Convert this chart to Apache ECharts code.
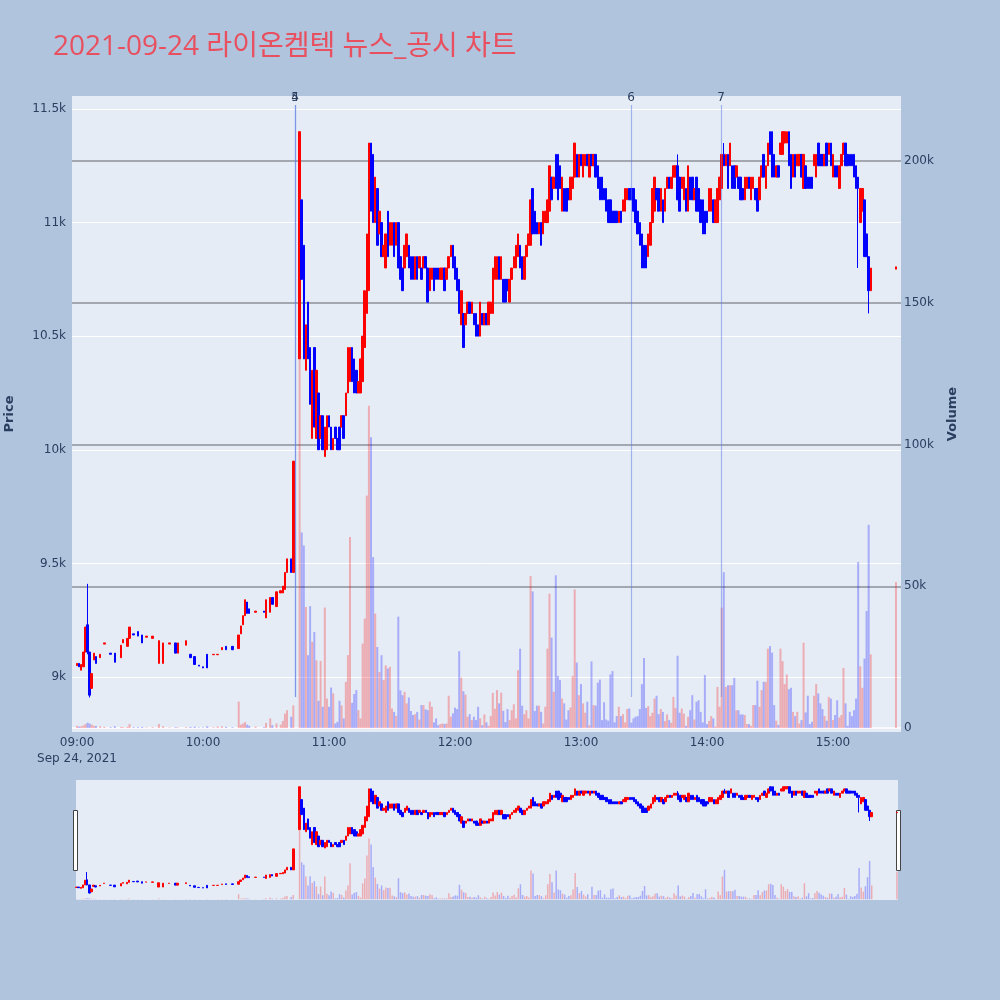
<!DOCTYPE html>
<html>
<head>
<meta charset="utf-8">
<script src="https://cdn.jsdelivr.net/npm/echarts@6/dist/echarts.min.js"></script>
<style>
    html, body { margin: 0; padding: 0; background: #b0c4de; }
    #chart { width: 1000px; height: 1000px; }
</style>
</head>
<body>
<div id="chart"></div>
<script>
// 1분봉: [09:00 기준 분, 시가, 종가, 거래량]
const morningBars = [
    [0, 9050, 9060, 800], [1, 9060, 9045, 500], [2, 9030, 9055, 600], [3, 9045, 9110, 900], [4, 9110, 9220, 1400],
    [5, 9230, 9110, 1900], [6, 9110, 8920, 1600], [7, 8950, 9015, 1200], [8, 9075, 9105, 800], [9, 9090, 9060, 700],
    [11, 9085, 9100, 600], [13, 9145, 9150, 400], [16, 9105, 9100, 300], [18, 9105, 9065, 600], [21, 9085, 9140, 400],
    [22, 9150, 9165, 300], [24, 9135, 9170, 400], [25, 9170, 9220, 1400], [27, 9190, 9185, 300], [29, 9200, 9180, 300],
    [31, 9185, 9150, 400], [33, 9175, 9180, 200], [36, 9170, 9180, 300], [39, 9060, 9160, 1400], [41, 9060, 9150, 600],
    [44, 9145, 9150, 200], [47, 9150, 9105, 300], [48, 9105, 9150, 200], [52, 9140, 9160, 300], [54, 9100, 9085, 400],
    [56, 9090, 9055, 500], [58, 9052, 9048, 200], [60, 9045, 9040, 200], [62, 9100, 9040, 600], [65, 9098, 9100, 300],
    [67, 9098, 9100, 500], [69, 9120, 9130, 600], [71, 9135, 9120, 400], [74, 9135, 9120, 300], [77, 9125, 9185, 9300],
    [78, 9190, 9225, 1200], [79, 9230, 9270, 1600], [80, 9270, 9340, 2100], [81, 9330, 9280, 1200], [82, 9300, 9280, 800],
    [85, 9285, 9290, 500], [89, 9290, 9285, 300], [90, 9260, 9340, 1800], [92, 9285, 9350, 3400], [93, 9350, 9320, 1000],
    [95, 9310, 9375, 1600], [97, 9370, 9380, 1200], [98, 9370, 9400, 2500], [99, 9385, 9460, 5100], [100, 9460, 9520, 6300],
    [102, 9520, 9460, 4000], [103, 9460, 9950, 8000]
]
// VI 이후 급등 구간
const spikeBars = [
    [106, 10400, 11400, 130000], [107, 11100, 10750, 69000], [108, 10900, 10400, 64400], [109, 10350, 10550, 42700],
    [110, 10650, 10400, 25700], [111, 10450, 10200, 43000], [112, 10050, 10350, 30400], [113, 10450, 10100, 33900],
    [114, 10050, 10350, 23900], [115, 10250, 10000, 9600], [116, 10050, 10150, 23700], [117, 10150, 10000, 7500],
    [118, 9970, 10100, 42500], [119, 10000, 10150, 10400], [120, 10150, 10100, 7500], [121, 10100, 10000, 14300],
    [122, 10000, 10050, 12200], [123, 10100, 10050, 1600], [124, 10050, 10000, 2200], [125, 10100, 10000, 9600],
    [126, 10100, 10150, 8000], [127, 10150, 10050, 3400], [128, 10150, 10250, 16300], [129, 10250, 10450, 25700],
    [130, 10300, 10450, 67400], [131, 10450, 10300, 8900], [132, 10400, 10250, 12000], [133, 10350, 10250, 13400],
    [134, 10250, 10300, 6300], [135, 10250, 10400, 3400], [136, 10300, 10500, 29800], [137, 10450, 10700, 38600],
    [138, 10600, 10950, 82000], [139, 10700, 11350, 113700], [140, 11350, 11050, 102600], [141, 11300, 11000, 60300],
    [142, 11000, 11200, 40400], [143, 11150, 10900, 28600], [144, 10950, 11050, 19800], [145, 11000, 10850, 25700],
    [146, 10850, 10900, 16900], [147, 10800, 10950, 22100], [148, 11050, 10850, 21000], [149, 10900, 11000, 21600],
    [150, 10900, 11000, 6900], [151, 11000, 10850, 5700], [152, 10900, 11000, 4300], [153, 11000, 10800, 39300],
    [154, 10850, 10750, 13300], [155, 10800, 10700, 11600], [156, 10800, 10900, 12800]
]
const middayBars = [
    [157, 10850, 10950, 8700], [158, 10900, 10800, 10800], [159, 10850, 10750, 6000], [160, 10850, 10750, 4600],
    [161, 10750, 10850, 4900], [162, 10850, 10750, 5700], [163, 10800, 10850, 3000], [164, 10800, 10750, 8100],
    [165, 10800, 10850, 8100], [166, 10850, 10800, 6600], [167, 10800, 10650, 6300], [168, 10700, 10800, 9300],
    [169, 10750, 10800, 7500], [170, 10800, 10700, 2000], [171, 10800, 10750, 3400], [172, 10800, 10750, 1000],
    [173, 10750, 10800, 1400], [174, 10750, 10800, 1600], [175, 10800, 10700, 1400], [176, 10750, 10800, 1600],
    [177, 10800, 10850, 11400], [178, 10850, 10900, 4000], [179, 10900, 10800, 5200], [180, 10850, 10750, 7200],
    [181, 10800, 10700, 6700], [182, 10750, 10600, 27100], [183, 10550, 10700, 17800], [184, 10600, 10450, 13000],
    [185, 10550, 10600, 11800], [186, 10600, 10650, 4000], [187, 10650, 10600, 4900], [188, 10600, 10650, 2800],
    [189, 10600, 10550, 4000], [190, 10600, 10500, 2800], [191, 10550, 10500, 7500], [192, 10500, 10650, 3400],
    [193, 10600, 10550, 1000], [194, 10550, 10600, 4800], [195, 10600, 10550, 2000], [196, 10550, 10650, 800],
    [197, 10600, 10650, 4200], [198, 10600, 10800, 12400], [199, 10750, 10850, 6800], [200, 10750, 10850, 13400],
    [201, 10850, 10750, 8700], [202, 10750, 10850, 12500], [203, 10750, 10650, 6100], [204, 10750, 10650, 2100],
    [205, 10750, 10700, 6700], [206, 10650, 10750, 2800], [207, 10750, 10800, 6300], [208, 10800, 10850, 8400],
    [209, 10800, 10900, 3400], [210, 10850, 10950, 20400], [211, 10900, 10800, 28000], [212, 10850, 10750, 7900],
    [213, 10750, 10850, 4900], [214, 10850, 10900, 6300], [215, 10900, 10950, 3400], [216, 10900, 11100, 53600],
    [217, 11150, 10950, 48200], [218, 11050, 10950, 6000], [219, 11000, 10950, 7900], [220, 10950, 11000, 7900],
    [221, 11000, 10900, 5700], [222, 10950, 11050, 1600], [223, 11000, 11050, 7500], [224, 11000, 11100, 28000],
    [225, 11050, 11250, 47400], [226, 11200, 11100, 31900], [227, 11150, 11200, 12800], [228, 11300, 11150, 53900],
    [229, 11300, 11100, 18400], [230, 11250, 11150, 16900], [231, 11050, 11200, 10400]
]
const afternoonBars = [
    [232, 11150, 11050, 8700], [233, 11150, 11050, 3000], [234, 11150, 11100, 6300], [235, 11100, 11200, 7300],
    [236, 11150, 11200, 18400], [237, 11200, 11350, 48900], [238, 11300, 11200, 23100], [239, 11200, 11300, 11600],
    [240, 11300, 11250, 15500], [241, 11200, 11300, 8700], [242, 11250, 11300, 5400], [243, 11300, 11250, 9300],
    [244, 11200, 11300, 1000], [245, 11300, 11250, 23500], [246, 11250, 11300, 8100], [247, 11300, 11200, 7900],
    [248, 11250, 11150, 16000], [249, 11200, 11100, 17100], [250, 11200, 11100, 2800], [251, 11150, 11100, 9100],
    [252, 11150, 11050, 3000], [253, 11100, 11000, 2600], [254, 11100, 11000, 18900], [255, 11050, 11000, 20100],
    [256, 11050, 11000, 2000], [257, 11050, 11000, 4200], [258, 11000, 11050, 7500], [259, 11050, 11000, 4200],
    [260, 11050, 11100, 4900], [261, 11050, 11150, 2000], [262, 11100, 11150, 6700], [263, 11150, 11100, 6900],
    [264, 11150, 11100, 1900], [265, 11150, 11050, 3400], [266, 11100, 11000, 4000], [267, 11050, 10950, 4200],
    [268, 11000, 10900, 6700], [269, 10950, 10800, 15500], [270, 10900, 10800, 24700], [271, 10900, 10800, 7100],
    [272, 10850, 10950, 7700], [273, 10900, 11000, 4200], [274, 11000, 11150, 5400], [275, 11050, 11200, 10400],
    [276, 11150, 11100, 11400], [277, 11150, 11050, 4900], [278, 11050, 11150, 6700], [279, 11100, 11000, 5700],
    [280, 11050, 11150, 2500], [281, 11150, 11200, 4800], [282, 11200, 11150, 2800], [283, 11150, 11200, 1900],
    [284, 11200, 11250, 11000], [285, 11200, 11250, 7100], [286, 11250, 11100, 25500], [287, 11200, 11050, 5400],
    [288, 11150, 11200, 6900], [289, 11100, 11200, 5100], [290, 11150, 11050, 800], [291, 11050, 11250, 4000],
    [292, 11200, 11100, 6300], [293, 11200, 11100, 11600], [294, 11100, 11150, 3000], [295, 11200, 11050, 9300],
    [296, 11150, 11050, 9800], [297, 11100, 11000, 5700], [298, 11100, 10950, 2000], [299, 11050, 10950, 18700],
    [300, 11050, 11000, 1400], [301, 11050, 11150, 2500], [302, 11050, 11150, 4200], [303, 11100, 11000, 3400]
]
const closingBars = [
    [304, 11000, 11100, 500], [305, 11000, 11150, 14500], [306, 11100, 11200, 7500], [307, 11150, 11300, 42500],
    [308, 11300, 11250, 55000], [309, 11250, 11300, 14500], [310, 11300, 11150, 15100], [311, 11250, 11350, 15100],
    [312, 11250, 11150, 15100], [313, 11250, 11150, 17700], [314, 11200, 11250, 6300], [315, 11200, 11150, 6300],
    [316, 11200, 11100, 4800], [317, 11150, 11100, 4800], [318, 11100, 11200, 4600], [319, 11150, 11200, 1400],
    [320, 11200, 11150, 1400], [321, 11100, 11200, 800], [322, 11150, 11200, 8100], [323, 11150, 11100, 8100],
    [324, 11150, 11050, 16700], [325, 11100, 11200, 7500], [326, 11200, 11250, 13400], [327, 11300, 11200, 16300],
    [328, 11150, 11250, 16300], [329, 11250, 11350, 28000], [330, 11400, 11300, 28900], [331, 11400, 11200, 26600],
    [332, 11300, 11200, 8100], [333, 11200, 11250, 2600], [334, 11250, 11200, 1100], [335, 11300, 11350, 28000],
    [336, 11300, 11400, 23600], [337, 11350, 11400, 15500], [338, 11350, 11400, 18900], [339, 11400, 11250, 13700],
    [340, 11300, 11150, 14200], [341, 11200, 11300, 5700], [342, 11300, 11200, 4200], [343, 11250, 11300, 5700],
    [344, 11250, 11300, 1600], [345, 11300, 11200, 2800], [346, 11150, 11300, 30100], [347, 11250, 11150, 5500],
    [348, 11200, 11150, 11400], [349, 11200, 11150, 1400], [350, 11200, 11150, 2200], [351, 11250, 11300, 11400],
    [352, 11200, 11300, 15500], [353, 11350, 11250, 12200], [354, 11300, 11250, 8700], [355, 11300, 11250, 6700],
    [356, 11250, 11300, 4200], [357, 11350, 11250, 2600], [358, 11300, 11350, 11000], [359, 11350, 11250, 10400],
    [360, 11200, 11300, 2800], [361, 11250, 11200, 4600], [362, 11250, 11200, 9800], [363, 11150, 11250, 3700],
    [364, 11250, 11300, 4600], [365, 11300, 11350, 21200], [366, 11350, 11250, 8700], [367, 11300, 11250, 800],
    [368, 11300, 11250, 5700], [369, 11300, 11250, 4200], [370, 11300, 11200, 6300], [371, 11250, 11150, 10400],
    [372, 11200, 11150, 58600], [373, 11000, 11150, 21800], [374, 11050, 11150, 14200], [375, 11100, 10850, 24500],
    [376, 10950, 10850, 41300], [377, 10850, 10700, 71700], [378, 10700, 10800, 26000],
    [390, 10795, 10805, 51500]   // 15:30 동시호가
]
// 꼬리: [분, 저가, 고가]
const wicks = [[5, 9100, 9410], [6, 8910, 9110], [286, 11100, 11300], [308, 11250, 11350], [372, 10800, 11200], [377, 10600, 10850]]

// 뉴스/공시 시점 (분)
const newsLabels = ['4', '5', '6', '7']
const newsMinutes = [103.8, 103.8, 263.8, 306.7]

const timeTicks = [0, 60, 120, 180, 240, 300, 360]
const priceTicks = [9000, 9500, 10000, 10500, 11000, 11500]
const volumeTicks = [0, 50000, 100000, 150000, 200000]

const FONT = '"Open Sans", "Noto Sans CJK KR", sans-serif'
const TICK_FONT = '"DejaVu Sans", sans-serif'
const TXT = '#2a3f5f'
const UP = '#ff0000'
const DOWN = '#0000ff'

function hhmm(m) {
    const h = 9 + Math.floor(m / 60)
    const mm = m % 60
    return String(h).padStart(2, '0') + ':' + String(mm).padStart(2, '0')
}

const bars = [].concat(morningBars, spikeBars, middayBars, afternoonBars, closingBars)
const wickMap = {}
wicks.forEach(w => { wickMap[w[0]] = w })

const candleData = bars.map(b => {
    const w = wickMap[b[0]]
    let lo = Math.min(b[1], b[2]), hi = Math.max(b[1], b[2])
    if (w) { lo = Math.min(lo, w[1]); hi = Math.max(hi, w[2]) }
    return [b[0], b[1], b[2], lo, hi]
})
const volumeData = bars.map(b => ({
    value: [b[0], b[3]],
    itemStyle: { color: b[2] >= b[1] ? 'rgba(255,0,0,0.27)' : 'rgba(0,0,255,0.27)' }
}))

const candleStyle = { color: UP, color0: DOWN, borderColor: UP, borderColor0: DOWN, borderColorDoji: UP, borderWidth: 1 }

const chart = echarts.init(document.getElementById('chart'))
const option = {
    backgroundColor: '#b0c4de',
    animation: false,
    textStyle: { fontFamily: FONT },
    title: {
        text: '2021-09-24 라이온켐텍 뉴스_공시 차트',
        left: 48,
        top: 28,
        textStyle: { color: '#e8505f', fontSize: 28, fontWeight: 'normal', fontFamily: FONT }
    },
    grid: [
        { left: 72, top: 96, width: 829, height: 636, show: true, backgroundColor: '#e5ecf6', borderWidth: 0, outerBoundsMode: 'none' },
        { left: 76, top: 780, width: 822, height: 120, show: true, backgroundColor: '#e5ecf6', borderWidth: 0, outerBoundsMode: 'none' }
    ],
    xAxis: [
        {
            type: 'value', gridIndex: 0, min: -2.4, max: 392.4,
            axisLine: { show: false }, axisTick: { show: false }, splitLine: { show: false },
            axisLabel: {
                customValues: timeTicks,
                formatter: v => v === 0 ? '09:00\nSep 24, 2021' : hhmm(v),
                color: TXT, fontSize: 12, margin: 3, lineHeight: 16, fontFamily: TICK_FONT
            }
        },
        { type: 'value', gridIndex: 1, min: -0.3, max: 390.5, show: false }
    ],
    yAxis: [
        {
            type: 'value', gridIndex: 0, min: 8758, max: 11557, position: 'left',
            name: 'Price', nameLocation: 'middle', nameGap: 56,
            nameTextStyle: { color: TXT, fontSize: 13, fontWeight: 'bold', fontFamily: TICK_FONT },
            axisLine: { show: false },
            axisTick: { show: false, customValues: priceTicks },
            axisLabel: { customValues: priceTicks, formatter: v => v / 1000 + 'k', color: TXT, fontSize: 12, margin: 6, fontFamily: TICK_FONT },
            splitLine: { show: true, lineStyle: { color: '#ffffff', width: 1 } }
        },
        {
            type: 'value', gridIndex: 0, min: -1400, max: 223000, position: 'right',
            name: 'Volume', nameLocation: 'middle', nameGap: 45,
            nameTextStyle: { color: TXT, fontSize: 13, fontWeight: 'bold', fontFamily: TICK_FONT },
            axisLine: { show: false },
            axisTick: { show: false, customValues: volumeTicks },
            axisLabel: { customValues: volumeTicks, formatter: v => v === 0 ? '0' : v / 1000 + 'k', color: TXT, fontSize: 12, margin: 3, fontFamily: TICK_FONT },
            splitLine: { show: true, lineStyle: { color: ['#ffffff', '#8d9099', '#8d9099', '#8d9099', '#8d9099'], width: 1.5 } }
        },
        { type: 'value', gridIndex: 1, min: 8758, max: 11557, show: false },
        { type: 'value', gridIndex: 1, min: -1400, max: 223000, show: false }
    ],
    graphic: [
        { type: 'rect', left: 73, top: 810, shape: { width: 4, height: 60 }, style: { fill: '#ffffff', stroke: '#444444', lineWidth: 1 } },
        { type: 'rect', left: 896, top: 810, shape: { width: 4, height: 60 }, style: { fill: '#ffffff', stroke: '#444444', lineWidth: 1 } }
    ],
    series: [
        { type: 'bar', xAxisIndex: 0, yAxisIndex: 1, data: volumeData, barWidth: 2 },
        {
            type: 'candlestick', xAxisIndex: 0, yAxisIndex: 0, data: candleData, barWidth: 2, clip: false,
            itemStyle: candleStyle,
            markLine: {
                symbol: 'none', silent: true, animation: false,
                lineStyle: { color: 'rgba(90,120,230,0.5)', width: 1.2, type: 'solid' },
                label: { show: true, position: 'end', formatter: '{b}', color: TXT, fontSize: 12, distance: 1, fontFamily: TICK_FONT },
                emphasis: { disabled: true },
                data: newsMinutes.map((m, i) => [{ name: newsLabels[i], coord: [m, 8912] }, { coord: [m, 11517] }])
            }
        },
        { type: 'bar', xAxisIndex: 1, yAxisIndex: 3, data: volumeData, barWidth: 1.5 },
        { type: 'candlestick', xAxisIndex: 1, yAxisIndex: 2, data: candleData, barWidth: 2, itemStyle: candleStyle }
    ]
}
chart.setOption(option)
</script>
</body>
</html>
